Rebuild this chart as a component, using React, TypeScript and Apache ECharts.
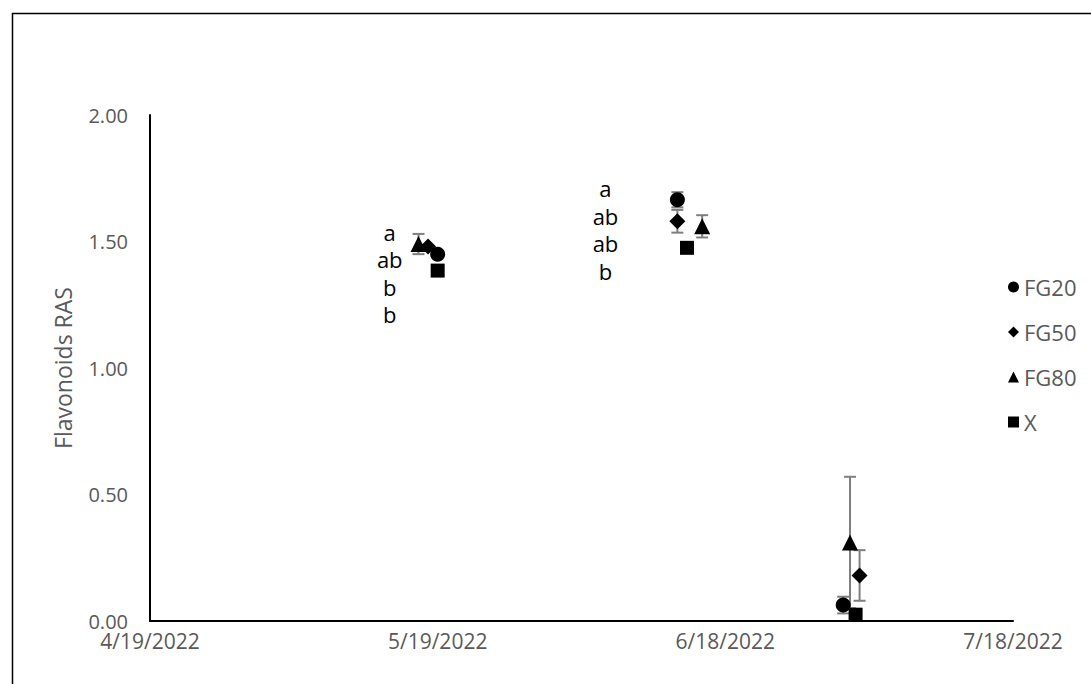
import React, { useEffect, useRef } from 'react';
import * as echarts from 'echarts';

// ---- data ----
const xTickLabels = ['4/19/2022', '5/19/2022', '6/18/2022', '7/18/2022'];

const fg20Dates = ['2022-05-19', '2022-06-13', '2022-06-30 07:00'];
const fg20Values = [1.45, 1.665, 0.063];
const fg20Errors = [0, 0.03, 0.033];

const fg50Dates = ['2022-05-18', '2022-06-13', '2022-07-02'];
const fg50Values = [1.48, 1.58, 0.18];
const fg50Errors = [0, 0.045, 0.1];

const fg80Dates = ['2022-05-17', '2022-06-15 14:00', '2022-07-01'];
const fg80Values = [1.49, 1.56, 0.31];
const fg80Errors = [0.04, 0.044, 0.26];

const xDates = ['2022-05-19', '2022-06-14', '2022-07-01 14:00'];
const xValues = [1.385, 1.475, 0.025];
const xErrors = [0, 0, 0];

// significance letters, one block per sampling date (FG20, FG50, FG80, X order)
const letterGroup1 = ['a', 'ab', 'b', 'b'];
const letterGroup2 = ['a', 'ab', 'ab', 'b'];
const letterGroupDates = ['2022-05-14', '2022-06-05 12:00'];
const letterGroupCenters = [1.375, 1.547];

// ---- helpers ----
function toSerial(s: string): number {
  const [d, t] = s.split(' ');
  const [y, m, dd] = d.split('-').map(Number);
  const h = t ? Number(t.split(':')[0]) : 0;
  return Date.UTC(y, m - 1, dd, h) / 86400000 + 25569;
}
function serialToLabel(v: number): string {
  const dt = new Date(Math.round((v - 25569) * 86400000));
  return `${dt.getUTCMonth() + 1}/${dt.getUTCDate()}/${dt.getUTCFullYear()}`;
}

const FONT = '"Open Sans", sans-serif';
const GRAY = '#595959';

function pointSeries(name: string, dates: string[], values: number[], symbol: string, size: number) {
  return {
    name,
    type: 'scatter',
    symbol,
    symbolSize: size,
    z: 5,
    itemStyle: { color: '#000', opacity: 1 },
    emphasis: { disabled: true },
    data: dates.map((d, i) => [toSerial(d), values[i]]),
  };
}

function errorSeries(dates: string[], values: number[], errors: number[]) {
  return {
    type: 'custom',
    z: 3,
    silent: true,
    encode: { x: 0, y: [1, 2] },
    data: dates
      .map((d, i) => [toSerial(d), values[i] - errors[i], values[i] + errors[i], errors[i]])
      .filter((r) => r[3] > 0),
    renderItem: (params: any, api: any) => {
      const x = api.value(0);
      const p1 = api.coord([x, api.value(2)]);
      const p2 = api.coord([x, api.value(1)]);
      const hw = 6;
      const style = { stroke: '#7f7f7f', lineWidth: 2 };
      return {
        type: 'group',
        children: [
          { type: 'line', shape: { x1: p1[0], y1: p1[1], x2: p2[0], y2: p2[1] }, style },
          { type: 'line', shape: { x1: p1[0] - hw, y1: p1[1], x2: p1[0] + hw, y2: p1[1] }, style },
          { type: 'line', shape: { x1: p2[0] - hw, y1: p2[1], x2: p2[0] + hw, y2: p2[1] }, style },
        ],
      };
    },
  };
}

export default function App() {
  const ref = useRef<HTMLDivElement>(null);
  useEffect(() => {
    document.body.style.margin = '0';
    const chart = echarts.init(ref.current!, null, { renderer: 'svg' });
    const xMin = toSerial('2022-04-19');
    const groups = [letterGroup1, letterGroup2];
    chart.setOption({
      animation: false,
      backgroundColor: '#fff',
      grid: { left: 150, top: 115, right: 78, bottom: 63 },
      graphic: [
        {
          type: 'rect',
          left: 10,
          top: 11,
          shape: { width: 1200, height: 800 },
          style: { fill: 'none', stroke: '#000', lineWidth: 1.5 },
          silent: true,
        },
      ],
      legend: {
        orient: 'vertical',
        left: 1003,
        top: 271,
        itemWidth: 11,
        itemHeight: 11,
        itemGap: 23,
        textStyle: { color: GRAY, fontSize: 22, fontFamily: FONT, lineHeight: 22 },
        data: [
          { name: 'FG20', icon: 'circle', itemStyle: { color: '#000' } },
          { name: 'FG50', icon: 'diamond', itemStyle: { color: '#000' } },
          { name: 'FG80', icon: 'triangle', itemStyle: { color: '#000' } },
          { name: 'X', icon: 'rect', itemStyle: { color: '#000' } },
        ],
      },
      xAxis: {
        type: 'value',
        min: xMin,
        max: xMin + 90,
        interval: 30,
        axisLine: { lineStyle: { color: '#000', width: 2 } },
        axisTick: { show: false },
        splitLine: { show: false },
        axisLabel: {
          color: GRAY,
          fontSize: 21,
          lineHeight: 16,
          fontFamily: FONT,
          margin: 12,
          formatter: (v: number) => {
            const idx = Math.round((v - xMin) / 30);
            return xTickLabels[idx] ?? serialToLabel(v);
          },
        },
      },
      yAxis: {
        type: 'value',
        min: 0,
        max: 2,
        interval: 0.5,
        name: 'Flavonoids RAS',
        nameLocation: 'middle',
        nameGap: 76,
        nameTextStyle: { color: GRAY, fontSize: 23, fontFamily: FONT },
        axisLine: { show: true, lineStyle: { color: '#000', width: 2 } },
        axisTick: { show: false },
        splitLine: { show: false },
        axisLabel: {
          color: GRAY,
          fontSize: 20,
          lineHeight: 16,
          fontFamily: FONT,
          margin: 22,
          formatter: (v: number) => v.toFixed(2),
        },
      },
      series: [
        errorSeries(fg20Dates, fg20Values, fg20Errors),
        errorSeries(fg50Dates, fg50Values, fg50Errors),
        errorSeries(fg80Dates, fg80Values, fg80Errors),
        errorSeries(xDates, xValues, xErrors),
        pointSeries('FG20', fg20Dates, fg20Values, 'circle', 15),
        pointSeries('FG50', fg50Dates, fg50Values, 'diamond', 16),
        pointSeries('FG80', fg80Dates, fg80Values, 'triangle', 16),
        pointSeries('X', xDates, xValues, 'rect', 14),
        {
          type: 'scatter',
          name: 'letters',
          symbolSize: 0,
          silent: true,
          data: letterGroupDates.map((d, i) => ({
            value: [toSerial(d), letterGroupCenters[i]],
            name: groups[i].join('\n'),
          })),
          label: {
            show: true,
            position: 'inside',
            align: 'center',
            formatter: (p: any) => p.name,
            color: '#000',
            opacity: 1,
            fontSize: 22,
            lineHeight: 27.5,
            fontFamily: FONT,
          },
        },
      ],
    });
    return () => chart.dispose();
  }, []);
  return <div ref={ref} style={{ width: 1091, height: 684 }} />;
}
